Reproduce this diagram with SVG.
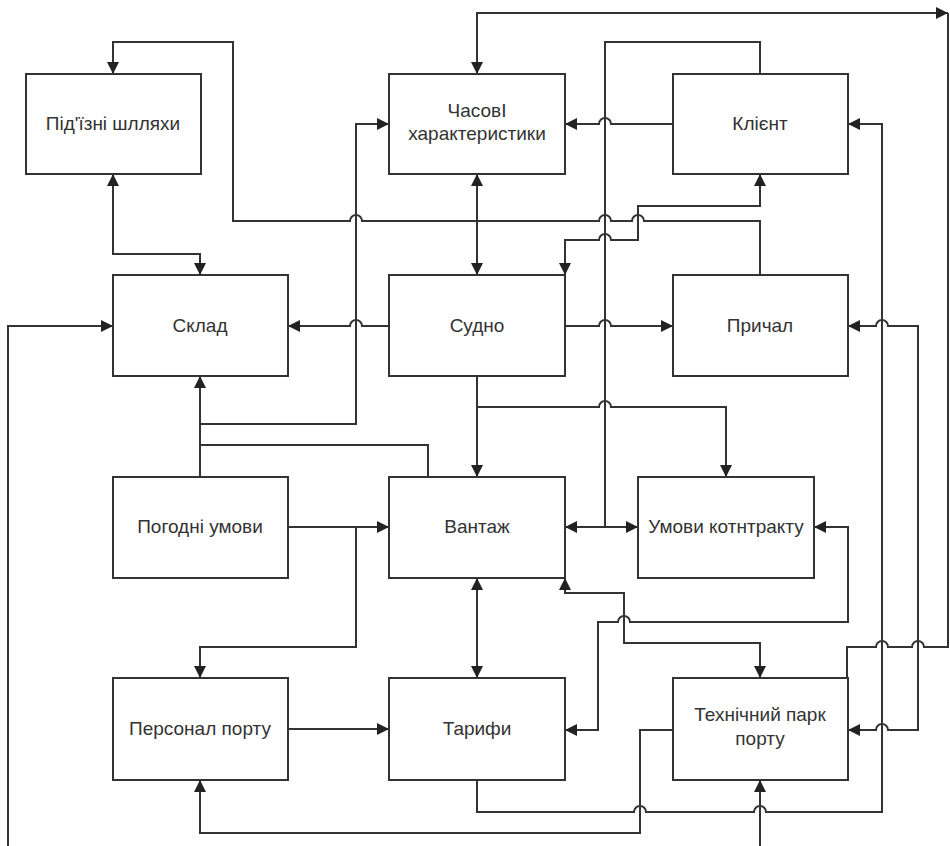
<svg xmlns="http://www.w3.org/2000/svg" width="950" height="846" viewBox="0 0 950 846">
<defs>
<marker id="ah" markerUnits="userSpaceOnUse" markerWidth="14" markerHeight="14" refX="12" refY="6" orient="auto-start-reverse">
<path d="M0,0 L12,6 L0,12 z" fill="#222"/>
</marker>
<style>
.box{fill:#fff;stroke:#333;stroke-width:2}
.t{font-family:"Liberation Sans",Arial,sans-serif;font-size:19px;fill:#333;text-anchor:middle}
.c path{fill:none;stroke:#333;stroke-width:2}
.e{marker-end:url(#ah)}
.b{marker-start:url(#ah);marker-end:url(#ah)}
</style>
</defs>
<rect width="950" height="846" fill="#fff"/>
<g class="c" id="connectors">
<path class="e" d="M760,275 V221 H644 a6,6 0 0 0 -12,0 H611 a6,6 0 0 0 -12,0 H362 a6,6 0 0 0 -12,0 H233 V42 H113 V74"/>
<path class="b" d="M113,174 V254 H200 V275"/>
<path class="e" d="M200,477 V376"/>
<path class="e" d="M200,424 H356 V124 H389"/>
<path d="M200,445 H428 V477"/>
<path class="e" d="M8,846 V326 H113"/>
<path class="b" d="M948,13 H477 V74"/>
<path d="M948,13 V647 H924 a6,6 0 0 0 -12,0 H888 a6,6 0 0 0 -12,0 H847 V678"/>
<path class="e" d="M673,124 H611 a6,6 0 0 0 -12,0 H565"/>
<path d="M760,74 V42 H605 V527"/>
<path class="b" d="M565,527 H638"/>
<path class="b" d="M565,275 V240 H599 a6,6 0 0 1 12,0 H638 V206 H760 V174"/>
<path class="b" d="M477,174 V275"/>
<path class="e" d="M389,326 H362 a6,6 0 0 0 -12,0 H288"/>
<path class="e" d="M565,326 H599 a6,6 0 0 1 12,0 H673"/>
<path class="e" d="M477,376 V477"/>
<path class="e" d="M477,407 H599 a6,6 0 0 1 12,0 H726 V477"/>
<path class="b" d="M848,326 H876 a6,6 0 0 1 12,0 H918 V730 H888 a6,6 0 0 0 -12,0 H848"/>
<path class="e" d="M477,780 V812 H634 a6,6 0 0 1 12,0 H754 a6,6 0 0 1 12,0 H882 V124 H848"/>
<path class="e" d="M673,730 H640 V833 H200 V780"/>
<path class="b" d="M477,578 V678"/>
<path class="e" d="M288,729 H389"/>
<path class="e" d="M288,527 H389"/>
<path class="e" d="M356,527 V647 H200 V678"/>
<path class="b" d="M565,578 V593 H624 V643 H760 V678"/>
<path class="b" d="M814,527 H848 V622 H630 a6,6 0 0 0 -12,0 H598 V730 H565"/>
<path class="e" d="M760,846 V780"/>
</g>
<g id="pidizni"><rect class="box" x="26" y="74" width="175" height="100"/><text class="t" x="113" y="130">Під'їзні шлляхи</text></g>
<g id="chasovi"><rect class="box" x="389" y="74" width="176" height="100"/><text class="t" x="477" y="117">ЧасовІ</text><text class="t" x="477" y="140">характеристики</text></g>
<g id="klient"><rect class="box" x="673" y="74" width="175" height="100"/><text class="t" x="760" y="130">Клієнт</text></g>
<g id="sklad"><rect class="box" x="113" y="275" width="175" height="101"/><text class="t" x="200" y="332">Склад</text></g>
<g id="sudno"><rect class="box" x="389" y="275" width="176" height="101"/><text class="t" x="477" y="332">Судно</text></g>
<g id="prychal"><rect class="box" x="673" y="275" width="175" height="101"/><text class="t" x="760" y="332">Причал</text></g>
<g id="pogodni"><rect class="box" x="113" y="477" width="175" height="101"/><text class="t" x="200" y="533">Погодні умови</text></g>
<g id="vantazh"><rect class="box" x="389" y="477" width="176" height="101"/><text class="t" x="477" y="533">Вантаж</text></g>
<g id="umovy"><rect class="box" x="638" y="477" width="176" height="101"/><text class="t" x="726" y="533">Умови котнтракту</text></g>
<g id="personal"><rect class="box" x="113" y="678" width="175" height="102"/><text class="t" x="200" y="735">Персонал порту</text></g>
<g id="taryfy"><rect class="box" x="389" y="678" width="176" height="102"/><text class="t" x="477" y="735">Тарифи</text></g>
<g id="tekhpark"><rect class="box" x="673" y="678" width="175" height="102"/><text class="t" x="760" y="721">Технічний парк</text><text class="t" x="760" y="745">порту</text></g>
</svg>
